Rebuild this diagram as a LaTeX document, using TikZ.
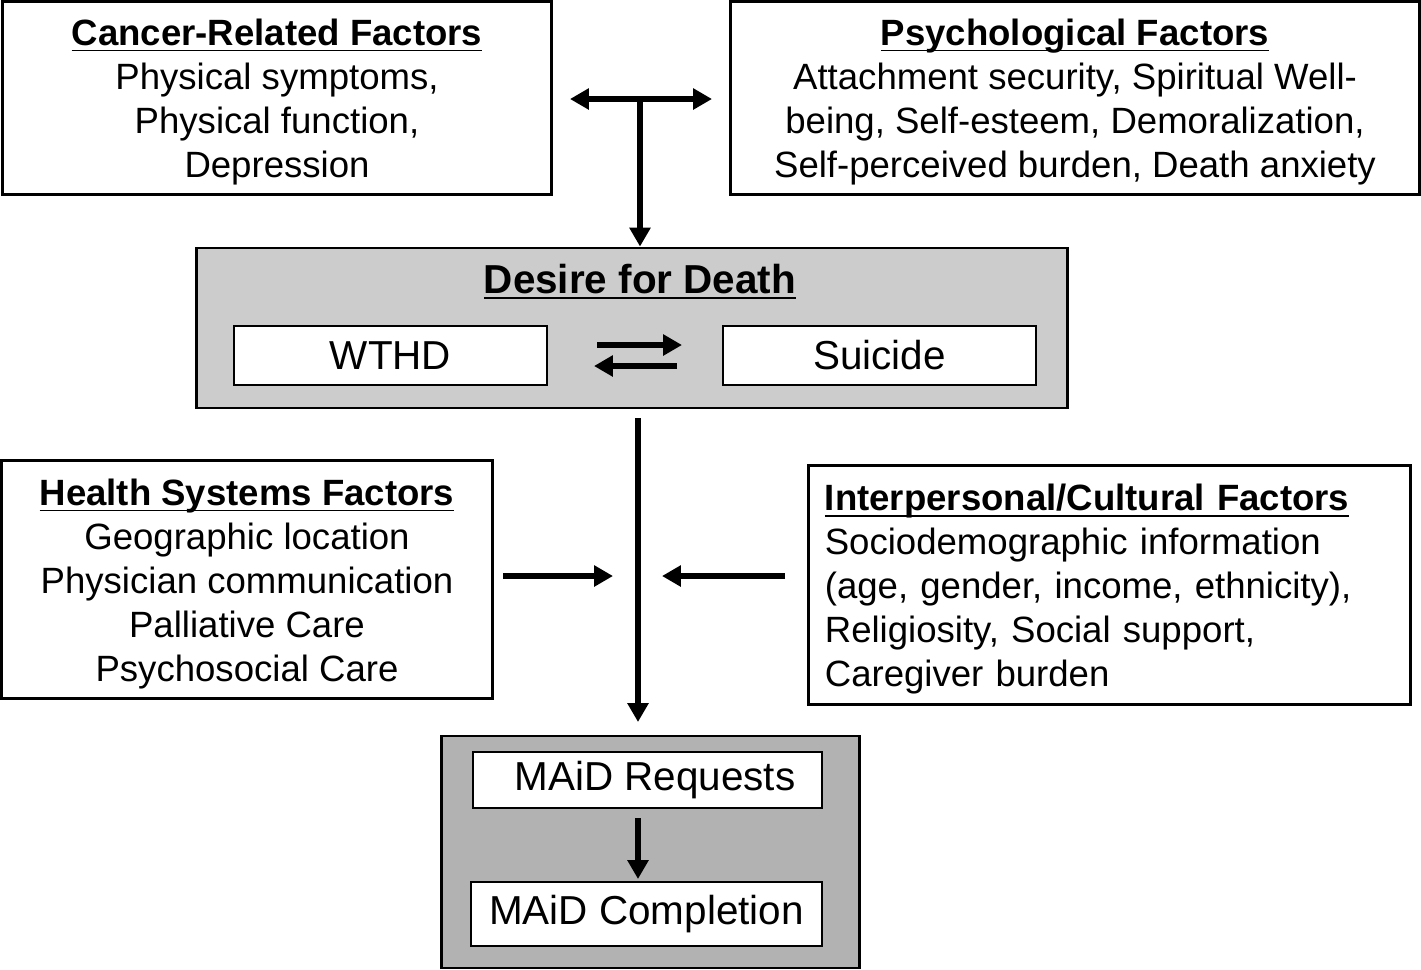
\documentclass[tikz,border=0pt]{standalone}
\usepackage{fontspec}
\setmainfont{Liberation Sans}
\usetikzlibrary{arrows.meta}
\definecolor{desiregrey}{HTML}{CCCCCC}
\definecolor{maidgrey}{HTML}{B2B2B2}
\tikzset{
  factorbox/.style={draw, line width=0.85pt, align=center, inner sep=0pt},
  greybox/.style={draw, line width=0.8pt, inner sep=0pt},
  innerbox/.style={draw, fill=white, line width=0.6pt, inner sep=0pt, font=\fontsize{11.5pt}{13pt}\selectfont},
  bigarrow/.style={line width=1.7pt, -{Triangle[length=5.4pt,width=5.8pt]}},
  twoarrow/.style={line width=1.7pt, {Triangle[length=5.4pt,width=5.8pt]}-{Triangle[length=5.4pt,width=5.8pt]}}
}
\newcommand{\factorhead}[1]{\rule{0pt}{10pt}\underline{\raisebox{0pt}[\height][0pt]{\textbf{#1}}}}

\begin{document}
\begin{tikzpicture}[x=0.01cm, y=-0.01cm, font=\fontsize{10.4pt}{12.5pt}\selectfont]
\useasboundingbox (0,0) rectangle (1421,969);

% factor boxes
\node[factorbox, minimum width=5.48cm, minimum height=1.92cm] (cancer) at (277,98)
  {\factorhead{Cancer-Related Factors}\\ Physical symptoms,\\ Physical function,\\ Depression};
\node[factorbox, minimum width=6.88cm, minimum height=1.92cm] (psych) at (1075,98)
  {\factorhead{Psychological Factors}\\ Attachment security, Spiritual Well-\\ being, Self-esteem, Demoralization,\\ Self-perceived burden, Death anxiety};
\node[factorbox, minimum width=4.90cm, minimum height=2.37cm] (health) at (247,579.5)
  {\factorhead{Health Systems Factors}\\ Geographic location\\ Physician communication\\ Palliative Care\\ Psychosocial Care};
\node[factorbox, align=left, text width=5.69cm, minimum width=6.01cm, minimum height=2.38cm] (inter) at (1109.5,585)
  {\factorhead{Interpersonal/Cultural Factors}\\ Sociodemographic information\\ (age, gender, income, ethnicity),\\ Religiosity, Social support,\\ Caregiver burden};

% desire for death
\node[greybox, fill=desiregrey, minimum width=8.70cm, minimum height=1.60cm] (desire) at (632,328) {};
\node[font=\fontsize{11.5pt}{13pt}\selectfont] (dtitle) at (640,279) {\factorhead{Desire for Death}};
\node[innerbox, minimum width=3.13cm, minimum height=0.59cm] (wthd) at (390.5,355.5) {WTHD};
\node[innerbox, minimum width=3.13cm, minimum height=0.59cm] (suicide) at (879.5,355.5) {Suicide};

% MAiD
\node[greybox, fill=maidgrey, minimum width=4.17cm, minimum height=2.32cm] (maid) at (650.5,852) {};
\node[innerbox, minimum width=3.49cm, minimum height=0.56cm] (req) at (647.5,780) {\hspace{0.15cm}MAiD Requests};
\node[innerbox, minimum width=3.51cm, minimum height=0.64cm] (comp) at (646.5,914) {MAiD Completion};

% arrows
\coordinate (topleft) at (570,99);
\coordinate (topright) at (712,99);
\coordinate (topjoin) at (640,99);
\draw[twoarrow] (topleft) -- (topright);
\draw[bigarrow] (topjoin) -- (topjoin |- desire.north);

\coordinate (fwdstart) at (597,345);
\coordinate (fwdend) at (682,345);
\coordinate (backstart) at (677,366);
\coordinate (backend) at (594,366);
\draw[bigarrow] (fwdstart) -- (fwdend);
\draw[bigarrow] (backstart) -- (backend);

\coordinate (trunktop) at (638,418);
\coordinate (trunkend) at (638,722);
\draw[bigarrow] (trunktop) -- (trunkend);

\coordinate (hsout) at (503,576);
\coordinate (hsin) at (613,576);
\coordinate (icout) at (785,576);
\coordinate (icin) at (662,576);
\draw[bigarrow] (hsout) -- (hsin);
\draw[bigarrow] (icout) -- (icin);

\draw[bigarrow] (638,818) -- (638,879);
\end{tikzpicture}
\end{document}
